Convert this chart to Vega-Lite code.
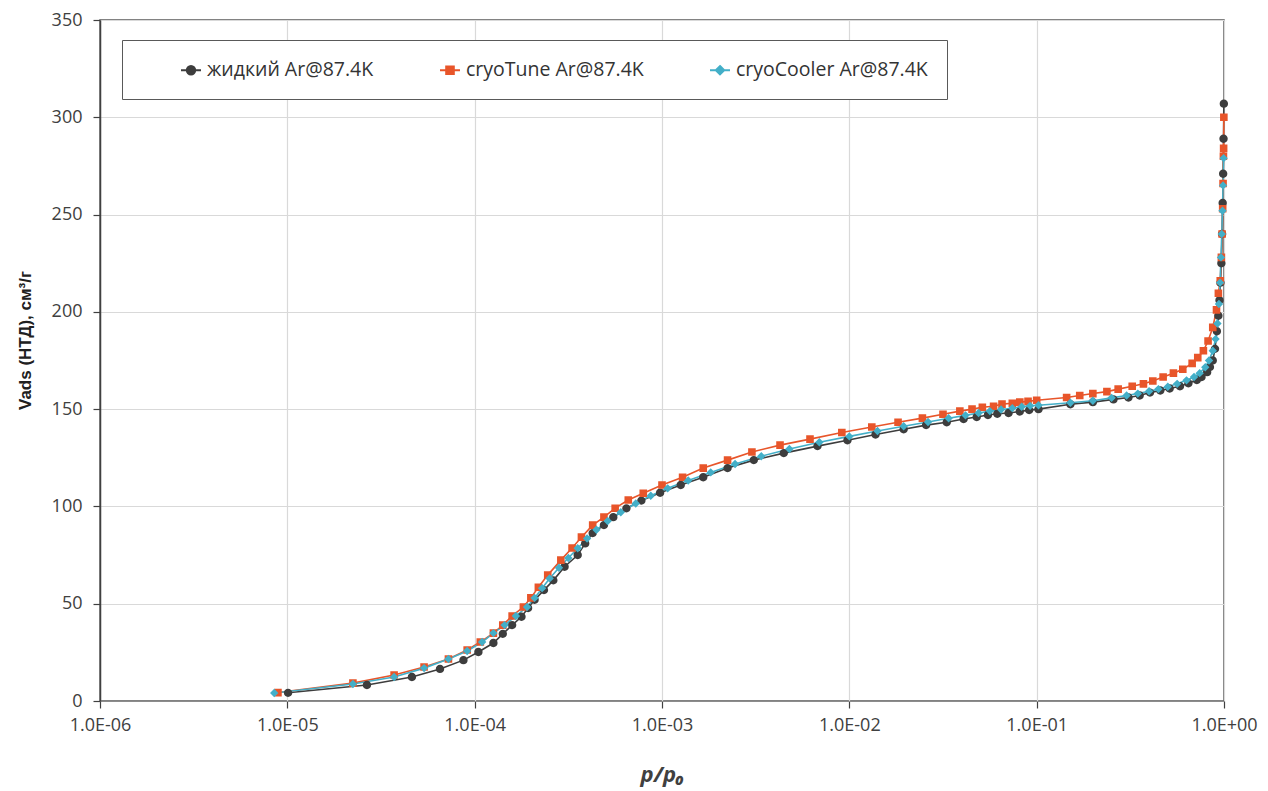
{
  "$schema": "https://vega.github.io/schema/vega-lite/v6.json",
  "width": 1124,
  "height": 681,
  "autosize": {"type": "none"},
  "padding": {"left": 100, "top": 20, "right": 44, "bottom": 90},
  "background": "white",
  "config": {"view": {"stroke": "#595959", "strokeWidth": 1.5}, "font": "Open Sans"},
  "datasets": {
    "iso": [
      {"series": "жидкий Ar@87.4K", "p": 1.009e-5, "v": 4.2},
      {"series": "жидкий Ar@87.4K", "p": 2.661e-5, "v": 8.2},
      {"series": "жидкий Ar@87.4K", "p": 4.624e-5, "v": 12.3},
      {"series": "жидкий Ar@87.4K", "p": 6.531e-5, "v": 16.5},
      {"series": "жидкий Ar@87.4K", "p": 8.710e-5, "v": 21},
      {"series": "жидкий Ar@87.4K", "p": 1.047e-4, "v": 25.2},
      {"series": "жидкий Ar@87.4K", "p": 1.259e-4, "v": 29.8},
      {"series": "жидкий Ar@87.4K", "p": 1.413e-4, "v": 34.5},
      {"series": "жидкий Ar@87.4K", "p": 1.585e-4, "v": 39},
      {"series": "жидкий Ar@87.4K", "p": 1.778e-4, "v": 43.3},
      {"series": "жидкий Ar@87.4K", "p": 1.928e-4, "v": 47.8},
      {"series": "жидкий Ar@87.4K", "p": 2.089e-4, "v": 52},
      {"series": "жидкий Ar@87.4K", "p": 2.344e-4, "v": 57},
      {"series": "жидкий Ar@87.4K", "p": 2.630e-4, "v": 62},
      {"series": "жидкий Ar@87.4K", "p": 3.020e-4, "v": 69},
      {"series": "жидкий Ar@87.4K", "p": 3.548e-4, "v": 75},
      {"series": "жидкий Ar@87.4K", "p": 3.890e-4, "v": 81},
      {"series": "жидкий Ar@87.4K", "p": 4.266e-4, "v": 86.3},
      {"series": "жидкий Ar@87.4K", "p": 4.898e-4, "v": 90.4},
      {"series": "жидкий Ar@87.4K", "p": 5.495e-4, "v": 94.5},
      {"series": "жидкий Ar@87.4K", "p": 6.457e-4, "v": 99},
      {"series": "жидкий Ar@87.4K", "p": 7.762e-4, "v": 103},
      {"series": "жидкий Ar@87.4K", "p": 9.772e-4, "v": 107},
      {"series": "жидкий Ar@87.4K", "p": 1.259e-3, "v": 111},
      {"series": "жидкий Ar@87.4K", "p": 1.660e-3, "v": 115},
      {"series": "жидкий Ar@87.4K", "p": 2.239e-3, "v": 119.7},
      {"series": "жидкий Ar@87.4K", "p": 3.090e-3, "v": 123.8},
      {"series": "жидкий Ar@87.4K", "p": 4.467e-3, "v": 127.4},
      {"series": "жидкий Ar@87.4K", "p": 6.761e-3, "v": 131},
      {"series": "жидкий Ar@87.4K", "p": 9.772e-3, "v": 134},
      {"series": "жидкий Ar@87.4K", "p": 1.380e-2, "v": 137},
      {"series": "жидкий Ar@87.4K", "p": 1.950e-2, "v": 139.7},
      {"series": "жидкий Ar@87.4K", "p": 2.570e-2, "v": 141.8},
      {"series": "жидкий Ar@87.4K", "p": 3.311e-2, "v": 143.3},
      {"series": "жидкий Ar@87.4K", "p": 4.074e-2, "v": 144.9},
      {"series": "жидкий Ar@87.4K", "p": 4.786e-2, "v": 146},
      {"series": "жидкий Ar@87.4K", "p": 5.495e-2, "v": 147},
      {"series": "жидкий Ar@87.4K", "p": 6.166e-2, "v": 147.6},
      {"series": "жидкий Ar@87.4K", "p": 7.079e-2, "v": 148},
      {"series": "жидкий Ar@87.4K", "p": 8.128e-2, "v": 148.8},
      {"series": "жидкий Ar@87.4K", "p": 9.120e-2, "v": 149.5},
      {"series": "жидкий Ar@87.4K", "p": 0.1023, "v": 150},
      {"series": "жидкий Ar@87.4K", "p": 0.1514, "v": 152.5},
      {"series": "жидкий Ar@87.4K", "p": 0.1995, "v": 153.6},
      {"series": "жидкий Ar@87.4K", "p": 0.2570, "v": 155},
      {"series": "жидкий Ar@87.4K", "p": 0.3090, "v": 156},
      {"series": "жидкий Ar@87.4K", "p": 0.3548, "v": 157},
      {"series": "жидкий Ar@87.4K", "p": 0.4027, "v": 158.5},
      {"series": "жидкий Ar@87.4K", "p": 0.4571, "v": 159.6},
      {"series": "жидкий Ar@87.4K", "p": 0.5129, "v": 160.6},
      {"series": "жидкий Ar@87.4K", "p": 0.5821, "v": 161.8},
      {"series": "жидкий Ar@87.4K", "p": 0.6457, "v": 163.3},
      {"series": "жидкий Ar@87.4K", "p": 0.7161, "v": 165},
      {"series": "жидкий Ar@87.4K", "p": 0.7586, "v": 166.5},
      {"series": "жидкий Ar@87.4K", "p": 0.8128, "v": 169},
      {"series": "жидкий Ar@87.4K", "p": 0.8414, "v": 171.6},
      {"series": "жидкий Ar@87.4K", "p": 0.8710, "v": 175},
      {"series": "жидкий Ar@87.4K", "p": 0.8954, "v": 181},
      {"series": "жидкий Ar@87.4K", "p": 0.9162, "v": 190},
      {"series": "жидкий Ar@87.4K", "p": 0.9333, "v": 198},
      {"series": "жидкий Ar@87.4K", "p": 0.9462, "v": 206},
      {"series": "жидкий Ar@87.4K", "p": 0.9572, "v": 215},
      {"series": "жидкий Ar@87.4K", "p": 0.9683, "v": 225},
      {"series": "жидкий Ar@87.4K", "p": 0.9772, "v": 240},
      {"series": "жидкий Ar@87.4K", "p": 0.9840, "v": 256},
      {"series": "жидкий Ar@87.4K", "p": 0.9897, "v": 271},
      {"series": "жидкий Ar@87.4K", "p": 0.9943, "v": 289},
      {"series": "жидкий Ar@87.4K", "p": 0.9982, "v": 307},

      {"series": "cryoTune Ar@87.4K", "p": 8.91e-6, "v": 4.3},
      {"series": "cryoTune Ar@87.4K", "p": 2.239e-5, "v": 9.2},
      {"series": "cryoTune Ar@87.4K", "p": 3.715e-5, "v": 13.4},
      {"series": "cryoTune Ar@87.4K", "p": 5.370e-5, "v": 17.5},
      {"series": "cryoTune Ar@87.4K", "p": 7.244e-5, "v": 21.6},
      {"series": "cryoTune Ar@87.4K", "p": 9.120e-5, "v": 26.2},
      {"series": "cryoTune Ar@87.4K", "p": 1.072e-4, "v": 30.3},
      {"series": "cryoTune Ar@87.4K", "p": 1.259e-4, "v": 34.9},
      {"series": "cryoTune Ar@87.4K", "p": 1.413e-4, "v": 39},
      {"series": "cryoTune Ar@87.4K", "p": 1.585e-4, "v": 43.7},
      {"series": "cryoTune Ar@87.4K", "p": 1.820e-4, "v": 48.3},
      {"series": "cryoTune Ar@87.4K", "p": 1.995e-4, "v": 53},
      {"series": "cryoTune Ar@87.4K", "p": 2.188e-4, "v": 58.5},
      {"series": "cryoTune Ar@87.4K", "p": 2.455e-4, "v": 64.7},
      {"series": "cryoTune Ar@87.4K", "p": 2.884e-4, "v": 72.4},
      {"series": "cryoTune Ar@87.4K", "p": 3.311e-4, "v": 78.6},
      {"series": "cryoTune Ar@87.4K", "p": 3.715e-4, "v": 84.2},
      {"series": "cryoTune Ar@87.4K", "p": 4.266e-4, "v": 90.4},
      {"series": "cryoTune Ar@87.4K", "p": 4.898e-4, "v": 94.5},
      {"series": "cryoTune Ar@87.4K", "p": 5.623e-4, "v": 99.1},
      {"series": "cryoTune Ar@87.4K", "p": 6.607e-4, "v": 103.3},
      {"series": "cryoTune Ar@87.4K", "p": 7.943e-4, "v": 106.8},
      {"series": "cryoTune Ar@87.4K", "p": 1.0e-3, "v": 111},
      {"series": "cryoTune Ar@87.4K", "p": 1.288e-3, "v": 115},
      {"series": "cryoTune Ar@87.4K", "p": 1.660e-3, "v": 119.7},
      {"series": "cryoTune Ar@87.4K", "p": 2.239e-3, "v": 123.8},
      {"series": "cryoTune Ar@87.4K", "p": 3.020e-3, "v": 128},
      {"series": "cryoTune Ar@87.4K", "p": 4.266e-3, "v": 131.5},
      {"series": "cryoTune Ar@87.4K", "p": 6.166e-3, "v": 134.6},
      {"series": "cryoTune Ar@87.4K", "p": 9.120e-3, "v": 138},
      {"series": "cryoTune Ar@87.4K", "p": 1.318e-2, "v": 140.8},
      {"series": "cryoTune Ar@87.4K", "p": 1.820e-2, "v": 143.3},
      {"series": "cryoTune Ar@87.4K", "p": 2.455e-2, "v": 145.4},
      {"series": "cryoTune Ar@87.4K", "p": 3.162e-2, "v": 147.4},
      {"series": "cryoTune Ar@87.4K", "p": 3.890e-2, "v": 149},
      {"series": "cryoTune Ar@87.4K", "p": 4.519e-2, "v": 150},
      {"series": "cryoTune Ar@87.4K", "p": 5.129e-2, "v": 151},
      {"series": "cryoTune Ar@87.4K", "p": 5.888e-2, "v": 151.5},
      {"series": "cryoTune Ar@87.4K", "p": 6.531e-2, "v": 152.6},
      {"series": "cryoTune Ar@87.4K", "p": 7.413e-2, "v": 153},
      {"series": "cryoTune Ar@87.4K", "p": 8.128e-2, "v": 153.6},
      {"series": "cryoTune Ar@87.4K", "p": 8.995e-2, "v": 154},
      {"series": "cryoTune Ar@87.4K", "p": 0.1, "v": 154.6},
      {"series": "cryoTune Ar@87.4K", "p": 0.1445, "v": 156},
      {"series": "cryoTune Ar@87.4K", "p": 0.1698, "v": 157},
      {"series": "cryoTune Ar@87.4K", "p": 0.1995, "v": 158},
      {"series": "cryoTune Ar@87.4K", "p": 0.2371, "v": 159},
      {"series": "cryoTune Ar@87.4K", "p": 0.2723, "v": 160.3},
      {"series": "cryoTune Ar@87.4K", "p": 0.3236, "v": 161.8},
      {"series": "cryoTune Ar@87.4K", "p": 0.3715, "v": 163},
      {"series": "cryoTune Ar@87.4K", "p": 0.4169, "v": 164.5},
      {"series": "cryoTune Ar@87.4K", "p": 0.4732, "v": 166.5},
      {"series": "cryoTune Ar@87.4K", "p": 0.5370, "v": 168.5},
      {"series": "cryoTune Ar@87.4K", "p": 0.6026, "v": 170.5},
      {"series": "cryoTune Ar@87.4K", "p": 0.6761, "v": 173.5},
      {"series": "cryoTune Ar@87.4K", "p": 0.7244, "v": 176.5},
      {"series": "cryoTune Ar@87.4K", "p": 0.7762, "v": 180},
      {"series": "cryoTune Ar@87.4K", "p": 0.8222, "v": 185},
      {"series": "cryoTune Ar@87.4K", "p": 0.8710, "v": 192},
      {"series": "cryoTune Ar@87.4K", "p": 0.9120, "v": 201},
      {"series": "cryoTune Ar@87.4K", "p": 0.9333, "v": 209.6},
      {"series": "cryoTune Ar@87.4K", "p": 0.9550, "v": 216},
      {"series": "cryoTune Ar@87.4K", "p": 0.9683, "v": 228},
      {"series": "cryoTune Ar@87.4K", "p": 0.9772, "v": 240},
      {"series": "cryoTune Ar@87.4K", "p": 0.9840, "v": 253},
      {"series": "cryoTune Ar@87.4K", "p": 0.9886, "v": 266},
      {"series": "cryoTune Ar@87.4K", "p": 0.9931, "v": 280},
      {"series": "cryoTune Ar@87.4K", "p": 0.9954, "v": 284},
      {"series": "cryoTune Ar@87.4K", "p": 0.9982, "v": 300},

      {"series": "cryoCooler Ar@87.4K", "p": 8.511e-6, "v": 4.1},
      {"series": "cryoCooler Ar@87.4K", "p": 2.239e-5, "v": 8.7},
      {"series": "cryoCooler Ar@87.4K", "p": 3.715e-5, "v": 12.3},
      {"series": "cryoCooler Ar@87.4K", "p": 5.370e-5, "v": 16.9},
      {"series": "cryoCooler Ar@87.4K", "p": 7.244e-5, "v": 21.6},
      {"series": "cryoCooler Ar@87.4K", "p": 9.120e-5, "v": 25.7},
      {"series": "cryoCooler Ar@87.4K", "p": 1.096e-4, "v": 30.3},
      {"series": "cryoCooler Ar@87.4K", "p": 1.259e-4, "v": 34.9},
      {"series": "cryoCooler Ar@87.4K", "p": 1.445e-4, "v": 39},
      {"series": "cryoCooler Ar@87.4K", "p": 1.660e-4, "v": 43.7},
      {"series": "cryoCooler Ar@87.4K", "p": 1.905e-4, "v": 48.3},
      {"series": "cryoCooler Ar@87.4K", "p": 2.089e-4, "v": 53},
      {"series": "cryoCooler Ar@87.4K", "p": 2.291e-4, "v": 58},
      {"series": "cryoCooler Ar@87.4K", "p": 2.512e-4, "v": 63},
      {"series": "cryoCooler Ar@87.4K", "p": 2.818e-4, "v": 68.5},
      {"series": "cryoCooler Ar@87.4K", "p": 3.162e-4, "v": 73.5},
      {"series": "cryoCooler Ar@87.4K", "p": 3.548e-4, "v": 78.5},
      {"series": "cryoCooler Ar@87.4K", "p": 3.981e-4, "v": 83.5},
      {"series": "cryoCooler Ar@87.4K", "p": 4.467e-4, "v": 88},
      {"series": "cryoCooler Ar@87.4K", "p": 5.129e-4, "v": 92.5},
      {"series": "cryoCooler Ar@87.4K", "p": 6.026e-4, "v": 97},
      {"series": "cryoCooler Ar@87.4K", "p": 7.244e-4, "v": 101.5},
      {"series": "cryoCooler Ar@87.4K", "p": 8.710e-4, "v": 105.5},
      {"series": "cryoCooler Ar@87.4K", "p": 1.072e-3, "v": 109.3},
      {"series": "cryoCooler Ar@87.4K", "p": 1.380e-3, "v": 113.3},
      {"series": "cryoCooler Ar@87.4K", "p": 1.820e-3, "v": 117.5},
      {"series": "cryoCooler Ar@87.4K", "p": 2.455e-3, "v": 121.8},
      {"series": "cryoCooler Ar@87.4K", "p": 3.388e-3, "v": 125.8},
      {"series": "cryoCooler Ar@87.4K", "p": 4.786e-3, "v": 129.5},
      {"series": "cryoCooler Ar@87.4K", "p": 6.918e-3, "v": 133},
      {"series": "cryoCooler Ar@87.4K", "p": 1.0e-2, "v": 136},
      {"series": "cryoCooler Ar@87.4K", "p": 1.413e-2, "v": 138.8},
      {"series": "cryoCooler Ar@87.4K", "p": 1.950e-2, "v": 141.2},
      {"series": "cryoCooler Ar@87.4K", "p": 2.630e-2, "v": 143.4},
      {"series": "cryoCooler Ar@87.4K", "p": 3.388e-2, "v": 145.3},
      {"series": "cryoCooler Ar@87.4K", "p": 4.169e-2, "v": 146.8},
      {"series": "cryoCooler Ar@87.4K", "p": 4.898e-2, "v": 148},
      {"series": "cryoCooler Ar@87.4K", "p": 5.623e-2, "v": 149},
      {"series": "cryoCooler Ar@87.4K", "p": 6.457e-2, "v": 149.8},
      {"series": "cryoCooler Ar@87.4K", "p": 7.413e-2, "v": 150.5},
      {"series": "cryoCooler Ar@87.4K", "p": 8.318e-2, "v": 151.2},
      {"series": "cryoCooler Ar@87.4K", "p": 9.226e-2, "v": 151.7},
      {"series": "cryoCooler Ar@87.4K", "p": 0.1023, "v": 152},
      {"series": "cryoCooler Ar@87.4K", "p": 0.1514, "v": 153.3},
      {"series": "cryoCooler Ar@87.4K", "p": 0.1995, "v": 154.3},
      {"series": "cryoCooler Ar@87.4K", "p": 0.2512, "v": 155.8},
      {"series": "cryoCooler Ar@87.4K", "p": 0.3020, "v": 157},
      {"series": "cryoCooler Ar@87.4K", "p": 0.3467, "v": 158},
      {"series": "cryoCooler Ar@87.4K", "p": 0.3981, "v": 159.2},
      {"series": "cryoCooler Ar@87.4K", "p": 0.4467, "v": 160.3},
      {"series": "cryoCooler Ar@87.4K", "p": 0.5012, "v": 161.5},
      {"series": "cryoCooler Ar@87.4K", "p": 0.5623, "v": 163},
      {"series": "cryoCooler Ar@87.4K", "p": 0.6310, "v": 164.8},
      {"series": "cryoCooler Ar@87.4K", "p": 0.6918, "v": 166.5},
      {"series": "cryoCooler Ar@87.4K", "p": 0.7413, "v": 168.5},
      {"series": "cryoCooler Ar@87.4K", "p": 0.7943, "v": 171.5},
      {"series": "cryoCooler Ar@87.4K", "p": 0.8318, "v": 175},
      {"series": "cryoCooler Ar@87.4K", "p": 0.8710, "v": 180},
      {"series": "cryoCooler Ar@87.4K", "p": 0.9016, "v": 186},
      {"series": "cryoCooler Ar@87.4K", "p": 0.9226, "v": 194},
      {"series": "cryoCooler Ar@87.4K", "p": 0.9397, "v": 204},
      {"series": "cryoCooler Ar@87.4K", "p": 0.9528, "v": 215},
      {"series": "cryoCooler Ar@87.4K", "p": 0.9638, "v": 228},
      {"series": "cryoCooler Ar@87.4K", "p": 0.9727, "v": 240},
      {"series": "cryoCooler Ar@87.4K", "p": 0.9817, "v": 252},
      {"series": "cryoCooler Ar@87.4K", "p": 0.9886, "v": 265},
      {"series": "cryoCooler Ar@87.4K", "p": 0.9954, "v": 279}
    ]
  },
  "data": {"name": "iso"},
  "encoding": {
    "x": {
      "field": "p",
      "type": "quantitative",
      "scale": {"type": "log", "domain": [0.000001, 1]},
      "axis": {
        "values": [0.000001, 0.00001, 0.0001, 0.001, 0.01, 0.1, 1],
        "labelExpr": "'1.0E' + (datum.value < 0.5 ? '-' : '+') + pad(toString(abs(round(log(datum.value)/LN10))), 2, '0', 'left')",
        "labelFlush": false,
        "labelOverlap": false,
        "grid": true,
        "gridColor": "#d9d9d9",
        "gridWidth": 1.2,
        "domainColor": "#8c8c8c",
        "domainWidth": 1.2,
        "tickColor": "#404040",
        "tickSize": 7,
        "tickWidth": 1.2,
        "labelFont": "Open Sans",
        "labelFontSize": 18,
        "labelColor": "#404040",
        "labelPadding": 8,
        "title": "p/p₀",
        "titleFont": "Open Sans",
        "titleFontSize": 22,
        "titleFontStyle": "italic",
        "titleFontWeight": "bold",
        "titleColor": "#404040",
        "titlePadding": 30
      }
    },
    "y": {
      "field": "v",
      "type": "quantitative",
      "scale": {"domain": [0, 350]},
      "axis": {
        "values": [0, 50, 100, 150, 200, 250, 300, 350],
        "grid": true,
        "gridColor": "#d9d9d9",
        "gridWidth": 1.2,
        "domainColor": "#404040",
        "domainWidth": 1.5,
        "tickColor": "#404040",
        "tickSize": 7,
        "tickWidth": 1.2,
        "labelFont": "Open Sans",
        "labelFontSize": 18,
        "labelColor": "#404040",
        "labelPadding": 11,
        "title": "Vads (НТД), см³/г",
        "titleFont": "'Liberation Sans Narrow', 'Liberation Sans', Arial, sans-serif",
        "titleFontSize": 17,
        "titleFontWeight": "bold",
        "titleColor": "#202020",
        "titlePadding": 17,
        "titleY": 320
      }
    }
  },
  "layer": [
    {
      "mark": {"type": "line", "strokeWidth": 1.6},
      "encoding": {
        "stroke": {
          "field": "series",
          "type": "nominal",
          "scale": {"domain": ["жидкий Ar@87.4K", "cryoTune Ar@87.4K", "cryoCooler Ar@87.4K"], "range": ["#3d3d3d", "#e8552a", "#43afc8"]}
        }
      }
    },
    {
      "mark": {"type": "point", "filled": true, "size": 400, "opacity": 1},
      "encoding": {
        "color": {
          "field": "series",
          "type": "nominal",
          "scale": {"domain": ["жидкий Ar@87.4K", "cryoTune Ar@87.4K", "cryoCooler Ar@87.4K"], "range": ["#3d3d3d", "#e8552a", "#43afc8"]},
          "legend": {
            "orient": "none",
            "legendX": 22,
            "legendY": 20,
            "direction": "horizontal",
            "title": " ",
            "titleOrient": "left",
            "titlePadding": 39,
            "titleFontSize": 10,
            "padding": 19,
            "strokeColor": "#595959",
            "fillColor": "white",
            "labelFont": "Open Sans",
            "labelFontSize": 19.5,
            "labelColor": "#333333",
            "labelLimit": 400,
            "labelOffset": 5,
            "columnPadding": 62,
            "symbolSize": 400,
            "symbolStrokeWidth": 2
          }
        },
        "shape": {
          "field": "series",
          "type": "nominal",
          "scale": {
            "domain": ["жидкий Ar@87.4K", "cryoTune Ar@87.4K", "cryoCooler Ar@87.4K"],
            "range": [
              "M-1,0H1M0.42,0A0.42,0.42,0,1,1,-0.42,0A0.42,0.42,0,1,1,0.42,0Z",
              "M-1,0H1M-0.38,-0.38H0.38V0.38H-0.38Z",
              "M-1,0H1M0,-0.42L0.42,0L0,0.42L-0.42,0Z"
            ]
          }
        }
      }
    }
  ]
}
